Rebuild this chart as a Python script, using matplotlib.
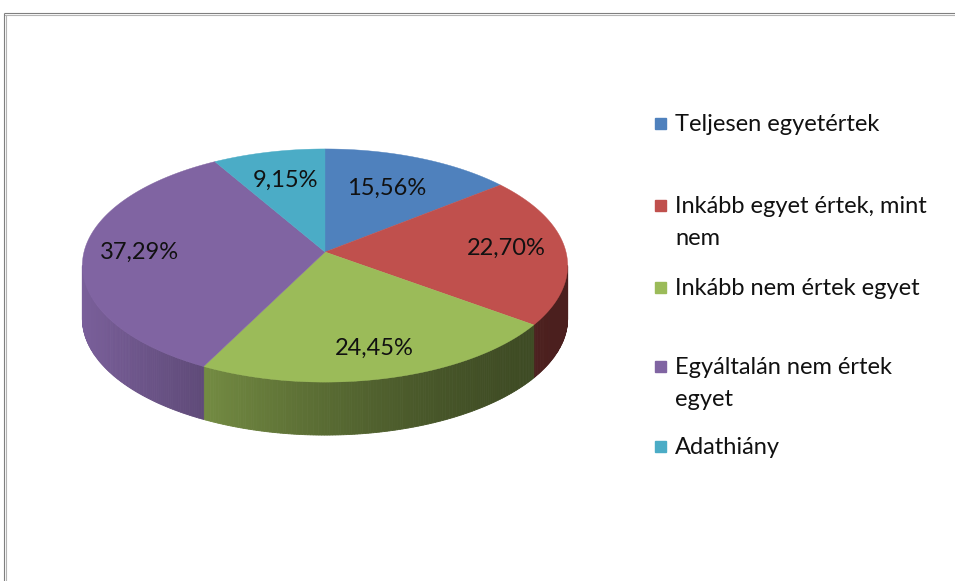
import numpy as np
import matplotlib.pyplot as plt
from matplotlib.colors import to_rgb

# adatok
categories = ["Teljesen egyetértek",
              "Inkább egyet értek, mint\nnem",
              "Inkább nem értek egyet",
              "Egyáltalán nem értek\negyet",
              "Adathiány"]
values = [15.56, 22.70, 24.45, 37.29, 9.15]
value_labels = ["15,56%", "22,70%", "24,45%", "37,29%", "9,15%"]
colors = ["#4F81BD", "#C0504D", "#9BBB59", "#8064A2", "#4BACC6"]

# 3D pite geometria (pixelben)
cx, cy = 325, 252      # csúcs
rx, ry = 241, 115
k = 0.116              # perspektíva
depth = 53
label_r = [0.63, 0.755, 0.80, 0.77, 0.67]

plt.rcParams['font.family'] = ['Lato', 'DejaVu Sans']
fs = 17

fig = plt.figure(figsize=(9.55, 5.81), dpi=100)
ax = fig.add_axes([0, 0, 1, 1])
ax.set_xlim(0, 955)
ax.set_ylim(581, 0)
ax.axis('off')


def proj(t, rho=1.0):
    X = rho * np.sin(t)
    Y = rho * np.cos(t)
    d = 1 + k * Y
    return cx + rx * X / d, cy - ry * Y / d


def shade(c, x):
    u = (x - cx) / (rx * 1.007)
    f = 0.39 + 0.56 * ((1 - u) / 2) ** 1.6
    return tuple(np.clip(np.array(to_rgb(c)) * f, 0, 1))


edges = np.concatenate([[0], np.cumsum(values)]) / sum(values) * 2 * np.pi
a0 = np.arccos(-k)
a1 = 2 * np.pi - a0

# oldalfal
for i in range(len(values)):
    lo = max(edges[i], a0)
    hi = min(edges[i + 1], a1)
    if lo >= hi:
        continue
    ts = np.linspace(lo, hi, max(2, int((hi - lo) / 0.01)))
    xs, ys = proj(ts)
    for j in range(len(ts) - 1):
        px = [xs[j], xs[j + 1], xs[j + 1], xs[j]]
        py = [ys[j], ys[j + 1], ys[j + 1] + depth, ys[j] + depth]
        col = shade(colors[i], (xs[j] + xs[j + 1]) / 2)
        ax.fill(px, py, color=col, lw=0.6, ec=col)

# teteje
for i in range(len(values)):
    ts = np.linspace(edges[i], edges[i + 1], 200)
    xs, ys = proj(ts)
    ax.fill(np.r_[cx, xs], np.r_[cy, ys], color=colors[i], lw=0.3, ec=colors[i])

# címkék
for i in range(len(values)):
    mid = (edges[i] + edges[i + 1]) / 2
    lx, ly = proj(mid, label_r[i])
    ax.text(lx, ly - 2, value_labels[i], ha='center', va='center',
            fontsize=fs, color='#111111')

# jelmagyarázat
legend_base = [131, 213, 295, 374, 454]
for i, lab in enumerate(categories):
    ax.add_patch(plt.Rectangle((655, legend_base[i] - 13), 11, 11,
                               color=colors[i]))
    for n, line in enumerate(lab.split("\n")):
        ax.text(675, legend_base[i] + n * 32, line, ha='left', va='baseline',
                fontsize=fs, color='#111111')

# keret
ax.plot([4, 955], [13, 13], color='#7f7f7f', lw=0.8, solid_capstyle='butt')
ax.plot([4, 955], [14.5, 14.5], color='#b4b4b4', lw=0.8, solid_capstyle='butt')
ax.plot([4, 4], [13, 581], color='#7f7f7f', lw=0.8, solid_capstyle='butt')
ax.plot([5.5, 5.5], [14.5, 581], color='#b4b4b4', lw=0.8, solid_capstyle='butt')

fig.savefig("out.png", dpi=100, facecolor='white')
